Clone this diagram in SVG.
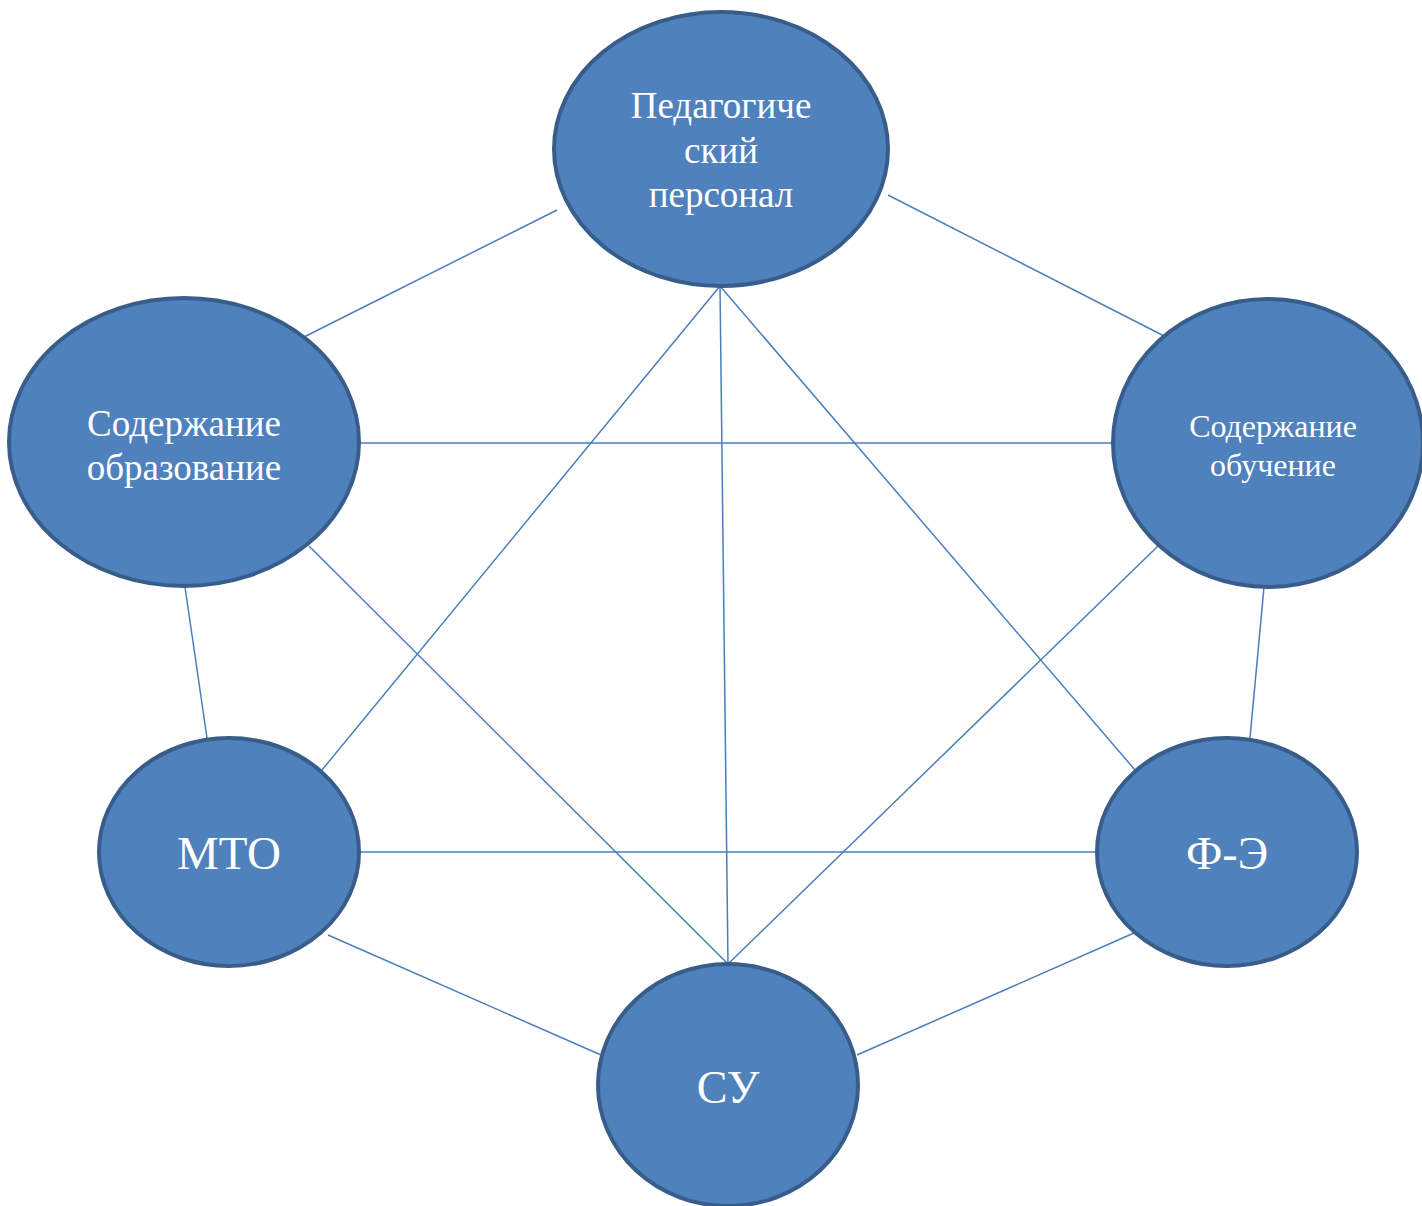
<svg xmlns="http://www.w3.org/2000/svg" width="1422" height="1206" viewBox="0 0 1422 1206">
<style>
.node{fill:#4F81BD;stroke:#385D8A;stroke-width:4}
.lbl{font-family:"Liberation Serif","Times New Roman",serif;fill:#FFFFFF;text-anchor:middle}
.conn line{stroke:#4A7EBB;stroke-width:1.5}
</style>
<rect width="1422" height="1206" fill="#FFFFFF"/>
<g class="conn" id="connectors">
<line x1="557" y1="210" x2="304" y2="337"/>
<line x1="888" y1="195" x2="1166" y2="337"/>
<line x1="358" y1="443" x2="1113" y2="443"/>
<line x1="720" y1="286" x2="322" y2="770"/>
<line x1="720" y1="286" x2="728" y2="964"/>
<line x1="720" y1="286" x2="1135" y2="770"/>
<line x1="309" y1="546" x2="728" y2="964"/>
<line x1="1158" y1="546" x2="728" y2="964"/>
<line x1="185" y1="587" x2="207" y2="738"/>
<line x1="1264" y1="587" x2="1250" y2="738"/>
<line x1="359" y1="852" x2="1097" y2="852"/>
<line x1="328" y1="935" x2="601" y2="1055"/>
<line x1="1134" y1="933" x2="857" y2="1055"/>
</g>
<g id="node-ped">
<ellipse class="node" cx="721" cy="149" rx="167" ry="137"/>
<text class="lbl" font-size="37"><tspan x="721" y="118">Педагогиче</tspan><tspan x="721" y="163">ский</tspan><tspan x="721" y="207">персонал</tspan></text>
</g>
<g id="node-sod-obr">
<ellipse class="node" cx="184" cy="442" rx="175" ry="144"/>
<text class="lbl" font-size="37"><tspan x="184" y="436">Содержание</tspan><tspan x="184" y="480">образование</tspan></text>
</g>
<g id="node-sod-ob">
<ellipse class="node" cx="1268" cy="443" rx="155" ry="144"/>
<text class="lbl" font-size="32"><tspan x="1273" y="437">Содержание</tspan><tspan x="1273" y="476">обучение</tspan></text>
</g>
<g id="node-mto">
<ellipse class="node" cx="229" cy="852" rx="130" ry="114"/>
<text class="lbl" font-size="47" x="229" y="869">МТО</text>
</g>
<g id="node-fe">
<ellipse class="node" cx="1227" cy="852" rx="130" ry="114"/>
<text class="lbl" font-size="46" x="1227" y="869">Ф-Э</text>
</g>
<g id="node-su">
<ellipse class="node" cx="728" cy="1085" rx="130" ry="121"/>
<text class="lbl" font-size="46" x="728" y="1103">СУ</text>
</g>
</svg>
